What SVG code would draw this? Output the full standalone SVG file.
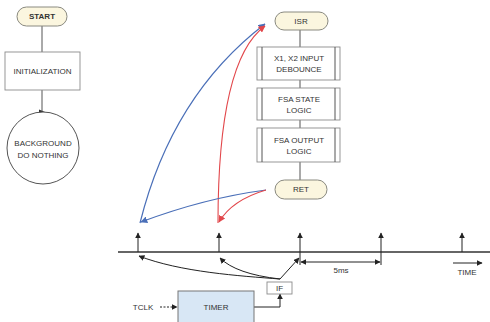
<svg xmlns="http://www.w3.org/2000/svg" width="490" height="322" viewBox="0 0 490 322">
<style>
  .pill{fill:#fbf6df;stroke:#8a8a80;stroke-width:1}
  .box{fill:#ffffff;stroke:#8c8c8c;stroke-width:0.9}
  .t{font-family:"Liberation Sans",Arial,sans-serif;font-size:8px;fill:#333;text-anchor:middle;dominant-baseline:central}
  .ln{fill:none;stroke:#555;stroke-width:1}
  .blk{fill:none;stroke:#222;stroke-width:1}
  .blue{fill:none;stroke:#4a6fb8;stroke-width:1.2}
  .red{fill:none;stroke:#e2474b;stroke-width:1.1}
</style>
<defs>
  <marker id="ak" viewBox="0 0 10 10" refX="9" refY="5" markerWidth="6" markerHeight="6" markerUnits="userSpaceOnUse" orient="auto"><path d="M0,0 L10,5 L0,10 z" fill="#222"/></marker>
  <marker id="ab" viewBox="0 0 10 10" refX="9" refY="5" markerWidth="7" markerHeight="7" markerUnits="userSpaceOnUse" orient="auto"><path d="M0,0 L10,5 L0,10 z" fill="#4a6fb8"/></marker>
  <marker id="ar" viewBox="0 0 10 10" refX="9" refY="5" markerWidth="7" markerHeight="7" markerUnits="userSpaceOnUse" orient="auto"><path d="M0,0 L10,5 L0,10 z" fill="#e2474b"/></marker>
</defs>
<rect width="490" height="322" fill="#fff"/>

<g id="connectors">
  <line class="ln" x1="42" y1="26" x2="42" y2="52"/>
  <line class="ln" x1="42" y1="90" x2="42" y2="112"/>
  <path d="M39,109.5 L45,112 L39,114.5 z" fill="#333"/>
  <line class="ln" x1="300" y1="30" x2="300" y2="47"/>
  <line class="ln" x1="300" y1="80" x2="300" y2="88"/>
  <line class="ln" x1="300" y1="120" x2="300" y2="128"/>
  <line class="ln" x1="300" y1="162" x2="300" y2="180"/>
  <path class="blue" d="M140,223 Q172,95 265,24" marker-end="url(#ab)"/>
  <path class="red" d="M218,223 Q218,60 265,26" marker-end="url(#ar)"/>
  <path class="blue" d="M266,190 Q205,198 141,222" marker-end="url(#ab)"/>
  <path class="red" d="M266,190 Q232,200 219,222" marker-end="url(#ar)"/>
  <path class="blk" d="M280,279 C240,276 180,272 139,256" marker-end="url(#ak)"/>
  <path class="blk" d="M280,279 Q236,274 220,258" marker-end="url(#ak)"/>
  <path class="blk" d="M280,279 L299,258" marker-end="url(#ak)"/>
  <line class="blk" x1="160" y1="307" x2="177" y2="307" stroke-dasharray="2,1.5" marker-end="url(#ak)"/>
  <path class="blk" d="M254,307 H280 V294" marker-end="url(#ak)"/>
</g>

<g id="start">
  <rect class="pill" x="17" y="7" width="50" height="19" rx="9.5"/>
  <text class="t" x="42" y="16.5" font-weight="bold">START</text>
</g>
<g id="initialization">
  <rect class="box" x="5" y="52" width="75" height="38"/>
  <text class="t" x="42.5" y="71">INITIALIZATION</text>
</g>
<g id="background">
  <circle cx="43" cy="148" r="36" fill="#fff" stroke="#555" stroke-width="1"/>
  <text class="t" x="43" y="143" font-size="9">BACKGROUND</text>
  <text class="t" x="43" y="155" font-size="9">DO NOTHING</text>
</g>

<g id="isr">
  <rect class="pill" x="275" y="12" width="53" height="18" rx="9"/>
  <text class="t" x="301" y="21">ISR</text>
</g>
<g id="debounce">
  <rect class="box" x="257" y="47" width="83" height="33"/>
  <line class="ln" x1="262" y1="47" x2="262" y2="80"/>
  <line class="ln" x1="335" y1="47" x2="335" y2="80"/>
  <text class="t" x="299" y="58" font-size="8.5">X1, X2 INPUT</text>
  <text class="t" x="299" y="69" font-size="8.5">DEBOUNCE</text>
</g>
<g id="fsa-state">
  <rect class="box" x="257" y="88" width="83" height="32"/>
  <line class="ln" x1="262" y1="88" x2="262" y2="120"/>
  <line class="ln" x1="335" y1="88" x2="335" y2="120"/>
  <text class="t" x="299" y="99" font-size="8.5">FSA STATE</text>
  <text class="t" x="299" y="110" font-size="8.5">LOGIC</text>
</g>
<g id="fsa-output">
  <rect class="box" x="257" y="128" width="83" height="34"/>
  <line class="ln" x1="262" y1="128" x2="262" y2="162"/>
  <line class="ln" x1="335" y1="128" x2="335" y2="162"/>
  <text class="t" x="299" y="140" font-size="8.5">FSA OUTPUT</text>
  <text class="t" x="299" y="151" font-size="8.5">LOGIC</text>
</g>
<g id="ret">
  <rect class="pill" x="275" y="180" width="52" height="19" rx="9.5"/>
  <text class="t" x="301" y="189.5">RET</text>
</g>

<g id="timeline">
  <line x1="118" y1="252" x2="490" y2="252" stroke="#333" stroke-width="1.6"/>
  <line class="blk" x1="138" y1="252" x2="138" y2="233" stroke-width="1.3" marker-end="url(#ak)"/>
  <line class="blk" x1="219" y1="252" x2="219" y2="233" stroke-width="1.3" marker-end="url(#ak)"/>
  <line class="blk" x1="300" y1="265" x2="300" y2="233" stroke-width="1.3" marker-end="url(#ak)"/>
  <line class="blk" x1="381" y1="265" x2="381" y2="233" stroke-width="1.3" marker-end="url(#ak)"/>
  <line class="blk" x1="462" y1="252" x2="462" y2="233" stroke-width="1.3" marker-end="url(#ak)"/>
  <line class="blk" x1="340" y1="262" x2="301" y2="262" marker-end="url(#ak)"/>
  <line class="blk" x1="340" y1="262" x2="380" y2="262" marker-end="url(#ak)"/>
  <text class="t" x="341" y="270" font-size="7.5">5ms</text>
  <line class="blk" x1="453" y1="263" x2="482" y2="263" marker-end="url(#ak)"/>
  <text class="t" x="467" y="272" font-size="7.5">TIME</text>
</g>

<g id="if">
  <rect class="box" x="267" y="282" width="25" height="12" stroke="#555"/>
  <text class="t" x="279.5" y="288" font-size="7.5">IF</text>
</g>
<g id="timer">
  <rect x="178" y="291" width="76" height="34" fill="#d8e7f5" stroke="#777" stroke-width="1"/>
  <text class="t" x="216" y="307">TIMER</text>
</g>
<g id="tclk">
  <text class="t" x="143" y="307">TCLK</text>
</g>
</svg>
